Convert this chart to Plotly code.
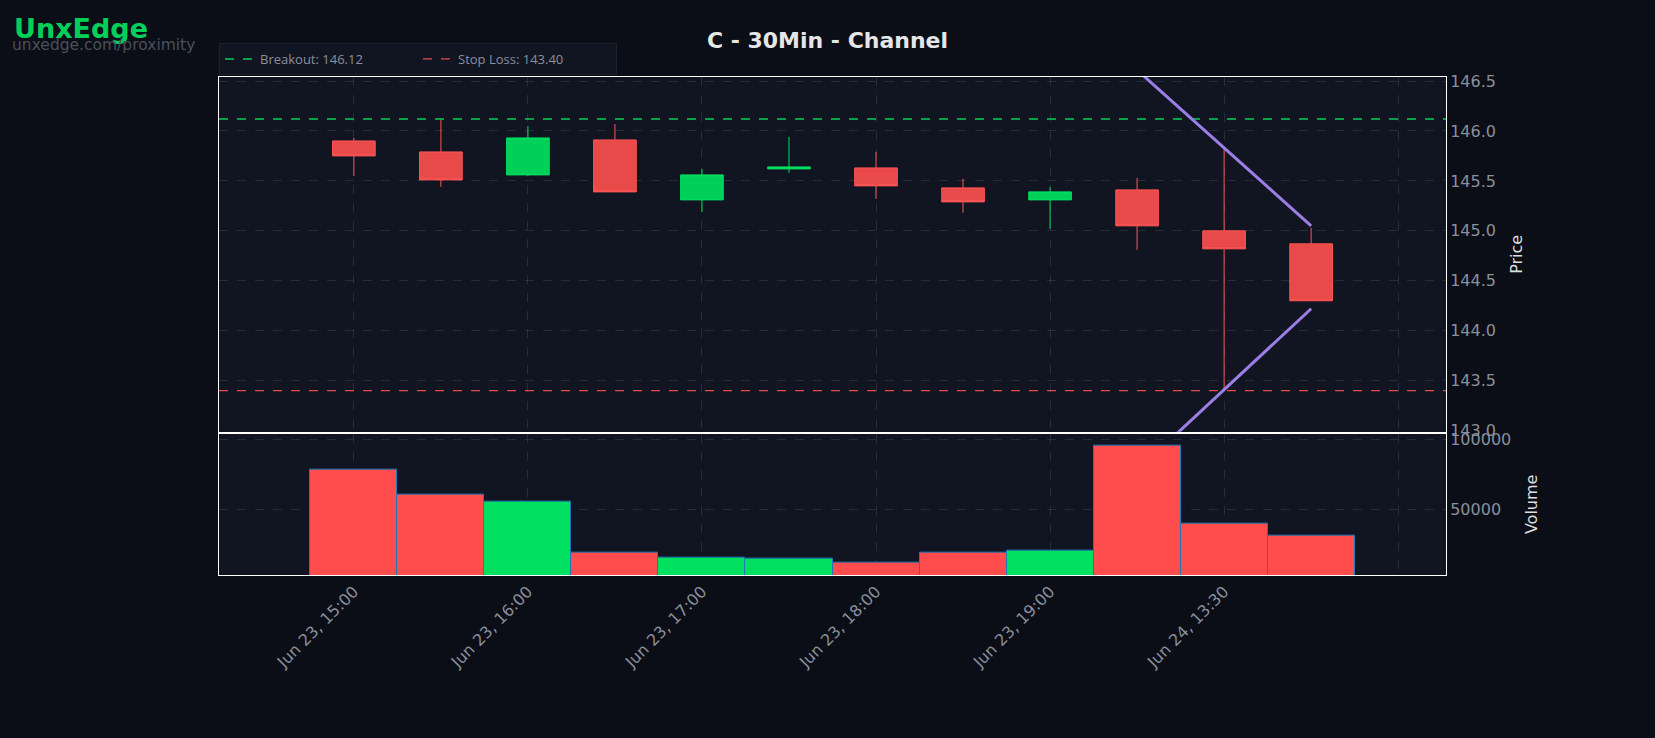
import plotly.graph_objects as go
from plotly.subplots import make_subplots

labels = ["Jun 23, 15:00","Jun 23, 15:30","Jun 23, 16:00","Jun 23, 16:30","Jun 23, 17:00","Jun 23, 17:30",
          "Jun 23, 18:00","Jun 23, 18:30","Jun 23, 19:00","Jun 23, 19:30","Jun 24, 13:30","Jun 24, 14:00"]
opens  = [145.90,145.79,145.56,145.91,145.31,145.62,145.63,145.43,145.31,145.41,145.00,144.87]
highs  = [145.93,146.12,146.05,146.07,145.62,145.94,145.79,145.52,145.44,145.53,145.83,145.03]
lows   = [145.55,145.44,145.55,145.39,145.19,145.58,145.32,145.18,145.02,144.81,143.41,144.30]
closes = [145.75,145.51,145.93,145.39,145.56,145.64,145.45,145.29,145.39,145.05,144.82,144.30]
volumes = [78500,60700,55700,19300,15700,15000,12100,19300,20700,95700,40000,31400]
breakout = 146.12
stop_loss = 143.40
upper_x = [8.5, 11]; upper_y = [147.0, 145.05]
lower_x = [9.0, 11]; lower_y = [142.6, 144.22]
tick_idx = [0, 2, 4, 6, 8, 10, 12]

RED = "#e84a4a"; GREEN = "#00d05a"
x = list(range(len(labels)))

fig = make_subplots(rows=2, cols=1, shared_xaxes=True, row_heights=[0.715, 0.285], vertical_spacing=0.004)
fig.add_trace(go.Candlestick(x=x, open=opens, high=highs, low=lows, close=closes,
    increasing=dict(line=dict(color="#00e060", width=1), fillcolor=GREEN),
    decreasing=dict(line=dict(color="#ff5555", width=1), fillcolor=RED),
    whiskerwidth=0, showlegend=False), row=1, col=1)
fig.add_trace(go.Scatter(x=[-1.55, 12.55], y=[breakout]*2, mode="lines",
    line=dict(color="#00d05a", dash="dash", width=1.5), name=f"Breakout: {breakout:.2f}"), row=1, col=1)
fig.add_trace(go.Scatter(x=[-1.55, 12.55], y=[stop_loss]*2, mode="lines",
    line=dict(color="#e84a4a", dash="dash", width=1.2), name=f"Stop Loss: {stop_loss:.2f}"), row=1, col=1)
fig.add_trace(go.Scatter(x=upper_x, y=upper_y, mode="lines", line=dict(color="#9b7fe6", width=3), showlegend=False), row=1, col=1)
fig.add_trace(go.Scatter(x=lower_x, y=lower_y, mode="lines", line=dict(color="#9b7fe6", width=3), showlegend=False), row=1, col=1)
vcol = ["#00e060" if c >= o else "#ff4d4d" for o, c in zip(opens, closes)]
fig.add_trace(go.Bar(x=x, y=volumes, marker=dict(color=vcol, line=dict(color="#1f77b4", width=1)),
    width=1, showlegend=False), row=2, col=1)

ax = dict(showgrid=True, gridcolor="rgba(80,90,110,0.35)", griddash="dash", showline=True,
          linecolor="white", mirror=True, zeroline=False, tickfont=dict(color="#8a8f9c", size=16))
tt = [labels[i] if i < len(labels) else "" for i in tick_idx]
fig.update_xaxes(**ax, range=[-1.55, 12.55], tickvals=tick_idx, ticktext=tt, tickangle=-45,
                 rangeslider=dict(visible=False))
fig.update_xaxes(showticklabels=False, row=1, col=1)
fig.update_yaxes(**ax, side="right")
fig.update_yaxes(range=[142.99, 146.54], dtick=0.5, tickformat=".1f", title=dict(text="Price", font=dict(color="#dddddd", size=16)), row=1, col=1)
fig.update_yaxes(range=[3571, 104286], tickvals=[50000, 100000], tickformat="d", title=dict(text="Volume", font=dict(color="#dddddd", size=16)), row=2, col=1)

fig.update_layout(width=1655, height=738, paper_bgcolor="#0b0e17", plot_bgcolor="#111522",
    margin=dict(l=219, r=209, t=77, b=163), bargap=0,
    font=dict(family="DejaVu Sans", color="#cccccc"),
    title=dict(text="<b>C - 30Min - Channel</b>", x=0.5, y=0.945, yanchor="middle", xanchor="center", font=dict(size=22, color="#e6e6e6")),
    legend=dict(orientation="h", x=0, y=1.004, xanchor="left", yanchor="bottom", bgcolor="#111522",
                bordercolor="#1c2130", borderwidth=1, itemwidth=30, entrywidth=153, entrywidthmode="pixels",
                font=dict(size=13, family="Open Sans", color="#8a8f9c")))
fig.add_annotation(text="<b>UnxEdge</b>", xref="paper", yref="paper", x=-219/1227 + 0.0095, y=1+(77-28)/498,
                   xanchor="left", yanchor="middle", showarrow=False, font=dict(size=27, color="#00d05a"))
fig.add_annotation(text="unxedge.com/proximity", xref="paper", yref="paper", x=-219/1227 + 0.0085, y=1+(77-45)/498,
                   xanchor="left", yanchor="middle", showarrow=False, font=dict(size=15.5, color="#4a4f5c"))
fig.write_html("out.html", config={"displayModeBar": False})
with open("out.html", encoding="utf-8") as f:
    html = f.read()
html = html.replace("<body>", '<body style="margin:0;background:#0b0e17">', 1)
with open("out.html", "w", encoding="utf-8") as f:
    f.write(html)
